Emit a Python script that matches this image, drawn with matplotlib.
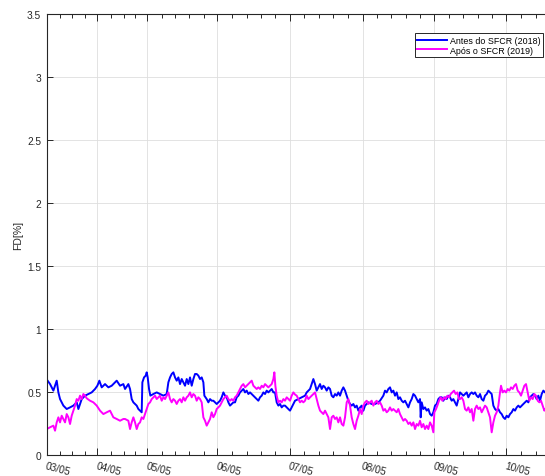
import matplotlib
matplotlib.use('Agg')
import matplotlib.pyplot as plt

plt.rcParams['font.family'] = ['Liberation Sans', 'DejaVu Sans']

# eixo x = indice de amostra
blue_x = [0, 10, 20, 30, 35, 40, 50, 60, 70, 80, 90, 95, 105, 115, 125, 135, 145, 152, 158, 165,
          175, 185, 195, 205, 210, 220, 230, 235, 245, 250, 255, 260, 270, 275, 280, 285, 287, 292,
          297, 300, 303, 307, 311, 320, 330, 340, 350, 360, 365, 370, 375, 380, 385, 390, 395, 400,
          405, 410, 415, 420, 425, 430, 435, 440, 445, 450, 455, 460, 465, 470, 473, 480, 485, 490,
          495, 500, 505, 510, 515, 520, 525, 530, 535, 540, 545, 550, 555, 560, 565, 570, 575, 580,
          585, 590, 595, 600, 605, 610, 615, 620, 625, 630, 635, 640, 645, 650, 655, 660, 665, 670,
          675, 680, 685, 690, 695, 700, 705, 710, 715, 720, 725, 730, 735, 740, 745, 755, 765, 775,
          780, 785, 790, 795, 800, 805, 810, 815, 820, 825, 830, 835, 840, 845, 850, 855, 860, 865,
          870, 875, 880, 885, 890, 895, 900, 905, 910, 915, 920, 925, 930, 935, 940, 945, 950, 955,
          960, 965, 975, 985, 995, 1000, 1010, 1015, 1020, 1025, 1030, 1035, 1040, 1045, 1050, 1055,
          1060, 1065, 1070, 1075, 1080, 1085, 1090, 1095, 1100, 1105, 1110, 1115, 1120, 1122, 1125,
          1130, 1135, 1140, 1145, 1150, 1155, 1160, 1165, 1170, 1175, 1180, 1185, 1190, 1195, 1200,
          1205, 1210, 1215, 1220, 1225, 1230, 1235, 1240, 1250, 1255, 1260, 1265, 1270, 1275, 1280,
          1285, 1290, 1295, 1300, 1305, 1310, 1315, 1320, 1325, 1330, 1335, 1340, 1345, 1350, 1355,
          1360, 1365, 1370, 1375, 1380, 1385, 1390, 1395, 1400, 1405, 1410, 1415, 1420, 1425, 1430,
          1435, 1440, 1445, 1450, 1455, 1460, 1465, 1470, 1475, 1480, 1485, 1490, 1495, 1510]
blue_y = [0.60, 0.563, 0.511, 0.590, 0.497, 0.444, 0.392, 0.365, 0.378, 0.392, 0.418, 0.365, 0.444,
          0.471, 0.484, 0.497, 0.524, 0.550, 0.590, 0.537, 0.563, 0.537, 0.550, 0.577, 0.590, 0.550,
          0.563, 0.524, 0.563, 0.524, 0.444, 0.418, 0.392, 0.365, 0.352, 0.339, 0.577, 0.616, 0.630,
          0.656, 0.616, 0.524, 0.471, 0.484, 0.497, 0.484, 0.471, 0.484, 0.577, 0.616, 0.643, 0.656,
          0.616, 0.590, 0.616, 0.563, 0.603, 0.577, 0.550, 0.603, 0.563, 0.616, 0.550, 0.603, 0.643,
          0.643, 0.630, 0.603, 0.616, 0.577, 0.471, 0.444, 0.418, 0.444, 0.431, 0.431, 0.418, 0.405,
          0.418, 0.431, 0.458, 0.497, 0.471, 0.458, 0.418, 0.392, 0.405, 0.418, 0.418, 0.458, 0.471,
          0.497, 0.511, 0.524, 0.497, 0.511, 0.484, 0.497, 0.484, 0.471, 0.458, 0.444, 0.431, 0.458,
          0.471, 0.497, 0.484, 0.511, 0.497, 0.511, 0.524, 0.497, 0.497, 0.418, 0.392, 0.405, 0.378,
          0.392, 0.392, 0.378, 0.365, 0.352, 0.378, 0.405, 0.431, 0.444, 0.458, 0.471, 0.497, 0.511,
          0.524, 0.563, 0.603, 0.563, 0.511, 0.537, 0.563, 0.524, 0.550, 0.537, 0.511, 0.537, 0.524,
          0.471, 0.458, 0.484, 0.471, 0.497, 0.471, 0.511, 0.537, 0.511, 0.471, 0.431, 0.405, 0.392,
          0.405, 0.378, 0.392, 0.352, 0.378, 0.392, 0.352, 0.392, 0.405, 0.418, 0.405, 0.405, 0.418,
          0.431, 0.471, 0.511, 0.497, 0.524, 0.537, 0.497, 0.511, 0.471, 0.497, 0.444, 0.458, 0.431,
          0.418, 0.431, 0.405, 0.378, 0.418, 0.444, 0.484, 0.471, 0.444, 0.418, 0.444, 0.299, 0.418,
          0.365, 0.378, 0.352, 0.365, 0.325, 0.312, 0.339, 0.392, 0.405, 0.444, 0.458, 0.458, 0.431,
          0.458, 0.444, 0.471, 0.458, 0.431, 0.444, 0.418, 0.392, 0.444, 0.497, 0.471, 0.484, 0.497,
          0.458, 0.484, 0.497, 0.484, 0.497, 0.471, 0.458, 0.484, 0.444, 0.431, 0.471, 0.484, 0.511,
          0.497, 0.484, 0.392, 0.365, 0.352, 0.365, 0.339, 0.325, 0.299, 0.286, 0.312, 0.299, 0.325,
          0.339, 0.365, 0.352, 0.378, 0.392, 0.378, 0.392, 0.405, 0.418, 0.431, 0.418, 0.458, 0.471,
          0.484, 0.471, 0.444, 0.471, 0.431, 0.484, 0.511, 0.497, 0.48]

mag_x = [0, 10, 20, 25, 30, 35, 40, 45, 50, 55, 60, 65, 70, 75, 80, 85, 90, 95, 100, 105, 110, 115,
         120, 130, 140, 150, 160, 170, 180, 190, 195, 200, 210, 220, 230, 235, 245, 250, 255, 260,
         265, 270, 275, 280, 285, 290, 295, 300, 305, 310, 315, 320, 325, 330, 335, 340, 345, 350,
         355, 360, 365, 370, 375, 380, 385, 390, 395, 400, 405, 410, 415, 420, 425, 430, 435, 440,
         445, 450, 455, 460, 465, 470, 475, 480, 485, 490, 495, 500, 505, 510, 515, 520, 525, 530,
         535, 540, 545, 550, 555, 560, 565, 570, 575, 580, 585, 590, 595, 600, 605, 610, 615, 620,
         625, 630, 635, 640, 645, 650, 655, 660, 665, 670, 675, 680, 683, 686, 690, 695, 700, 705,
         710, 715, 720, 725, 730, 735, 740, 745, 750, 755, 760, 765, 770, 775, 780, 785, 790, 795,
         800, 805, 810, 815, 820, 825, 830, 835, 840, 845, 850, 855, 860, 865, 870, 875, 880, 885,
         890, 895, 900, 905, 910, 915, 920, 925, 930, 935, 940, 945, 950, 955, 960, 965, 970, 975,
         980, 985, 990, 995, 1000, 1005, 1010, 1015, 1020, 1025, 1030, 1035, 1040, 1045, 1050, 1055,
         1060, 1065, 1070, 1075, 1080, 1085, 1090, 1095, 1100, 1105, 1110, 1115, 1120, 1125, 1130,
         1135, 1140, 1145, 1150, 1155, 1160, 1163, 1168, 1172, 1177, 1182, 1187, 1192, 1197, 1202,
         1207, 1212, 1217, 1222, 1227, 1232, 1237, 1240, 1245, 1250, 1255, 1260, 1265, 1270, 1275,
         1280, 1285, 1290, 1295, 1300, 1305, 1310, 1315, 1320, 1325, 1330, 1335, 1340, 1345, 1350,
         1355, 1360, 1363, 1368, 1373, 1378, 1383, 1388, 1393, 1398, 1403, 1408, 1413, 1418, 1423,
         1428, 1433, 1438, 1443, 1448, 1453, 1458, 1463, 1468, 1473, 1478, 1483, 1488, 1493, 1495,
         1510]
mag_y = [0.206, 0.220, 0.233, 0.193, 0.259, 0.299, 0.259, 0.312, 0.286, 0.259, 0.325, 0.299, 0.246,
         0.312, 0.352, 0.392, 0.444, 0.431, 0.471, 0.444, 0.484, 0.471, 0.450, 0.431, 0.418, 0.392,
         0.352, 0.325, 0.339, 0.352, 0.325, 0.299, 0.286, 0.272, 0.286, 0.286, 0.272, 0.206, 0.259,
         0.299, 0.259, 0.206, 0.246, 0.259, 0.299, 0.286, 0.325, 0.365, 0.405, 0.418, 0.444, 0.458,
         0.471, 0.444, 0.458, 0.471, 0.431, 0.458, 0.444, 0.471, 0.497, 0.444, 0.418, 0.444, 0.431,
         0.405, 0.431, 0.444, 0.418, 0.458, 0.431, 0.458, 0.471, 0.497, 0.458, 0.484, 0.471, 0.431,
         0.458, 0.444, 0.418, 0.299, 0.272, 0.233, 0.259, 0.286, 0.339, 0.300, 0.325, 0.365, 0.378,
         0.392, 0.418, 0.444, 0.458, 0.471, 0.444, 0.431, 0.444, 0.431, 0.458, 0.471, 0.497, 0.524,
         0.550, 0.563, 0.537, 0.550, 0.563, 0.577, 0.590, 0.550, 0.537, 0.524, 0.537, 0.524, 0.550,
         0.537, 0.563, 0.550, 0.537, 0.550, 0.563, 0.603, 0.656, 0.550, 0.471, 0.418, 0.431, 0.418,
         0.444, 0.431, 0.458, 0.444, 0.431, 0.471, 0.497, 0.48, 0.471, 0.444, 0.418, 0.431, 0.418,
         0.431, 0.471, 0.444, 0.458, 0.471, 0.484, 0.497, 0.444, 0.392, 0.352, 0.339, 0.325, 0.352,
         0.325, 0.299, 0.206, 0.299, 0.312, 0.286, 0.299, 0.259, 0.299, 0.246, 0.233, 0.299, 0.418,
         0.444, 0.392, 0.299, 0.246, 0.206, 0.272, 0.312, 0.365, 0.325, 0.392, 0.418, 0.431, 0.405,
         0.418, 0.431, 0.392, 0.418, 0.431, 0.405, 0.418, 0.392, 0.352, 0.365, 0.339, 0.352, 0.378,
         0.352, 0.365, 0.352, 0.339, 0.365, 0.325, 0.299, 0.272, 0.286, 0.272, 0.246, 0.259, 0.233,
         0.259, 0.206, 0.246, 0.233, 0.272, 0.220, 0.246, 0.206, 0.233, 0.206, 0.259, 0.233, 0.180,
         0.339, 0.365, 0.392, 0.431, 0.458, 0.431, 0.458, 0.444, 0.471, 0.458, 0.484, 0.497, 0.511,
         0.484, 0.497, 0.444, 0.444, 0.458, 0.431, 0.365, 0.352, 0.378, 0.339, 0.365, 0.272, 0.365,
         0.392, 0.365, 0.378, 0.339, 0.365, 0.392, 0.378, 0.339, 0.299, 0.180, 0.259, 0.312, 0.339,
         0.392, 0.497, 0.550, 0.497, 0.511, 0.497, 0.524, 0.511, 0.537, 0.524, 0.550, 0.563, 0.511,
         0.497, 0.471, 0.511, 0.550, 0.563, 0.497, 0.431, 0.458, 0.444, 0.484, 0.471, 0.431, 0.418,
         0.431, 0.392, 0.352, 0.365, 0.37]

day_ticks = [0, 152, 302, 512, 730, 948, 1163, 1378]
day_labels = ['03/05', '04/05', '05/05', '06/05', '07/05', '08/05', '09/05', '10/05']
minor_ticks = [40, 77, 114, 193, 231, 265, 345, 385, 427, 471, 555, 600, 643, 686, 773, 817, 860,
               903, 990, 1033, 1077, 1120, 1206, 1250, 1293, 1336, 1423, 1467]
y_ticks = [0, 0.5, 1, 1.5, 2, 2.5, 3, 3.5]
y_labels = ['0', '0.5', '1', '1.5', '2', '2.5', '3', '3.5']

cinza = '#262626'
fig = plt.figure(figsize=(5.45, 4.77), dpi=100)
ax = fig.add_axes([0.0857, 0.044, 0.9235, 0.9245])

ax.plot(blue_x, blue_y, color=(0, 0, 1), lw=1.4, label='Antes do SFCR (2018)')
ax.plot(mag_x, mag_y, color=(1, 0, 1), lw=1.4, label='Após o SFCR (2019)')

ax.set_xlim(0, 1510)
ax.set_ylim(0, 3.5)
ax.set_yticks(y_ticks, y_labels)
ax.set_xticks(day_ticks, day_labels, rotation=-15, ha='left', rotation_mode='anchor')
ax.set_xticks(minor_ticks, minor=True)
ax.grid(True, which='major', color='#dedede', lw=0.6)
ax.set_axisbelow(True)

for s in ['left', 'top', 'bottom']:
    ax.spines[s].set_color(cinza)
    ax.spines[s].set_linewidth(0.8)
ax.spines['right'].set_visible(False)
ax.tick_params(axis='both', which='both', direction='in', colors=cinza, labelsize=7.3,
               top=True, width=0.7)
ax.tick_params(axis='x', which='major', length=5, pad=4)
ax.tick_params(axis='x', which='minor', length=3)
ax.tick_params(axis='y', which='major', length=4, pad=4)
ax.set_ylabel('FD[%]', fontsize=7.5, color=cinza, labelpad=3)

leg = ax.legend(loc='upper right', bbox_to_anchor=(0.986, 0.957), borderaxespad=0,
                fontsize=6.4, fancybox=False, framealpha=1, edgecolor=cinza,
                handlelength=3.3, handletextpad=0.35, borderpad=0.3, labelspacing=0.1)
leg.get_frame().set_linewidth(0.7)

plt.savefig('out.png', dpi=100)
